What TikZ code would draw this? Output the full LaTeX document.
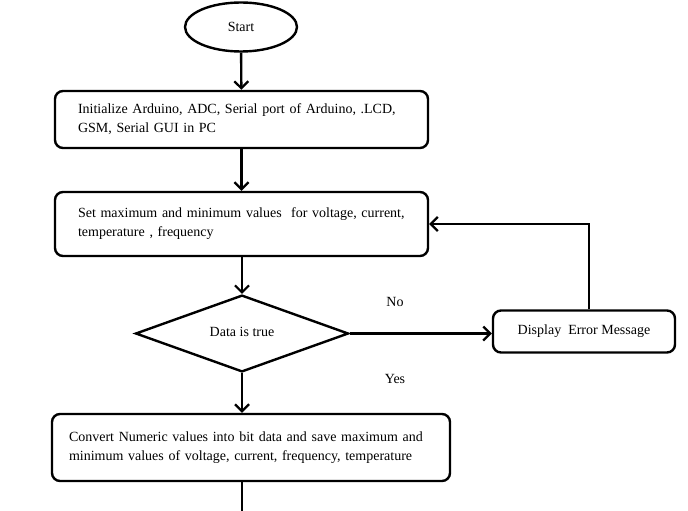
\documentclass[tikz,border=0pt]{standalone}
\usepackage{fontspec}
\setmainfont{Liberation Serif}
\usepackage{tikz}
\usetikzlibrary{arrows.meta,shapes.geometric,positioning}
\tikzstyle{arrow} = [line width=2.4pt,-{Straight Barb[length=7pt,width=14pt,line width=2.2pt]}]
\tikzstyle{flowline} = [line width=2.4pt]
\tikzstyle{startbox} = [ellipse, draw, line width=2.4pt, minimum width=112pt, minimum height=49pt, font=\fontsize{14}{19}\selectfont]
\tikzstyle{procbox} = [rectangle, rounded corners=8pt, draw, line width=2.4pt, align=left, inner xsep=23pt, font=\fontsize{14}{19}\selectfont]
\tikzstyle{decision} = [diamond, draw, line width=2.4pt, minimum width=213pt, minimum height=73pt, inner sep=0pt, font=\fontsize{14}{19}\selectfont]
\tikzstyle{plainlabel} = [font=\fontsize{14}{19}\selectfont]

\begin{document}
\begin{tikzpicture}[x=1pt,y=-1pt]
\useasboundingbox (0,0) rectangle (688,511);
% Start
\node[startbox] (start) at (241,27) {Start};

% Process steps
\node[procbox, text width=327pt, minimum height=57pt] (init) at (241.5,119.5) {Initialize Arduino, ADC, Serial port of Arduino, .LCD,\\GSM, Serial GUI in PC};
\node[procbox, text width=327pt, minimum height=64pt] (limits) at (241.5,224) {Set maximum and minimum values\ \ for voltage, current,\\temperature , frequency\\[4pt]};

% Decision
\node[decision] (check) at (242,333.5) {\raisebox{3pt}{Data is true}};
\node[procbox, align=center, inner xsep=4pt, minimum width=182pt, minimum height=42pt] (error) at (584,331.5) {\raisebox{3pt}{Display\ \ Error Message}};

% Convert
\node[procbox, inner xsep=17pt, text width=364pt, minimum height=67pt] (convert) at (251,447.5) {Convert Numeric values into bit data and save maximum and\\minimum values of voltage, current, frequency, temperature\\[9pt]};
\coordinate (tail) at (242,512);

% Labels
\node[plainlabel] (nolabel) at (395,302) {No};
\node[plainlabel] (yeslabel) at (395,379) {Yes};

% Arrows
\draw[arrow] (start) -- (init);
\draw[arrow] (init) -- (limits);
\draw[arrow] (limits.south -| check.north) -- (check);
\draw[arrow] (check.east) -- (error.west |- check.east);
\draw[arrow] (error.north -| 589,0) -- (589,224) -- (limits.east);
\draw[arrow] (check.south) -- (convert.north -| check.south);
\draw[flowline] (convert.south -| tail) -- (tail);
\end{tikzpicture}
\end{document}
